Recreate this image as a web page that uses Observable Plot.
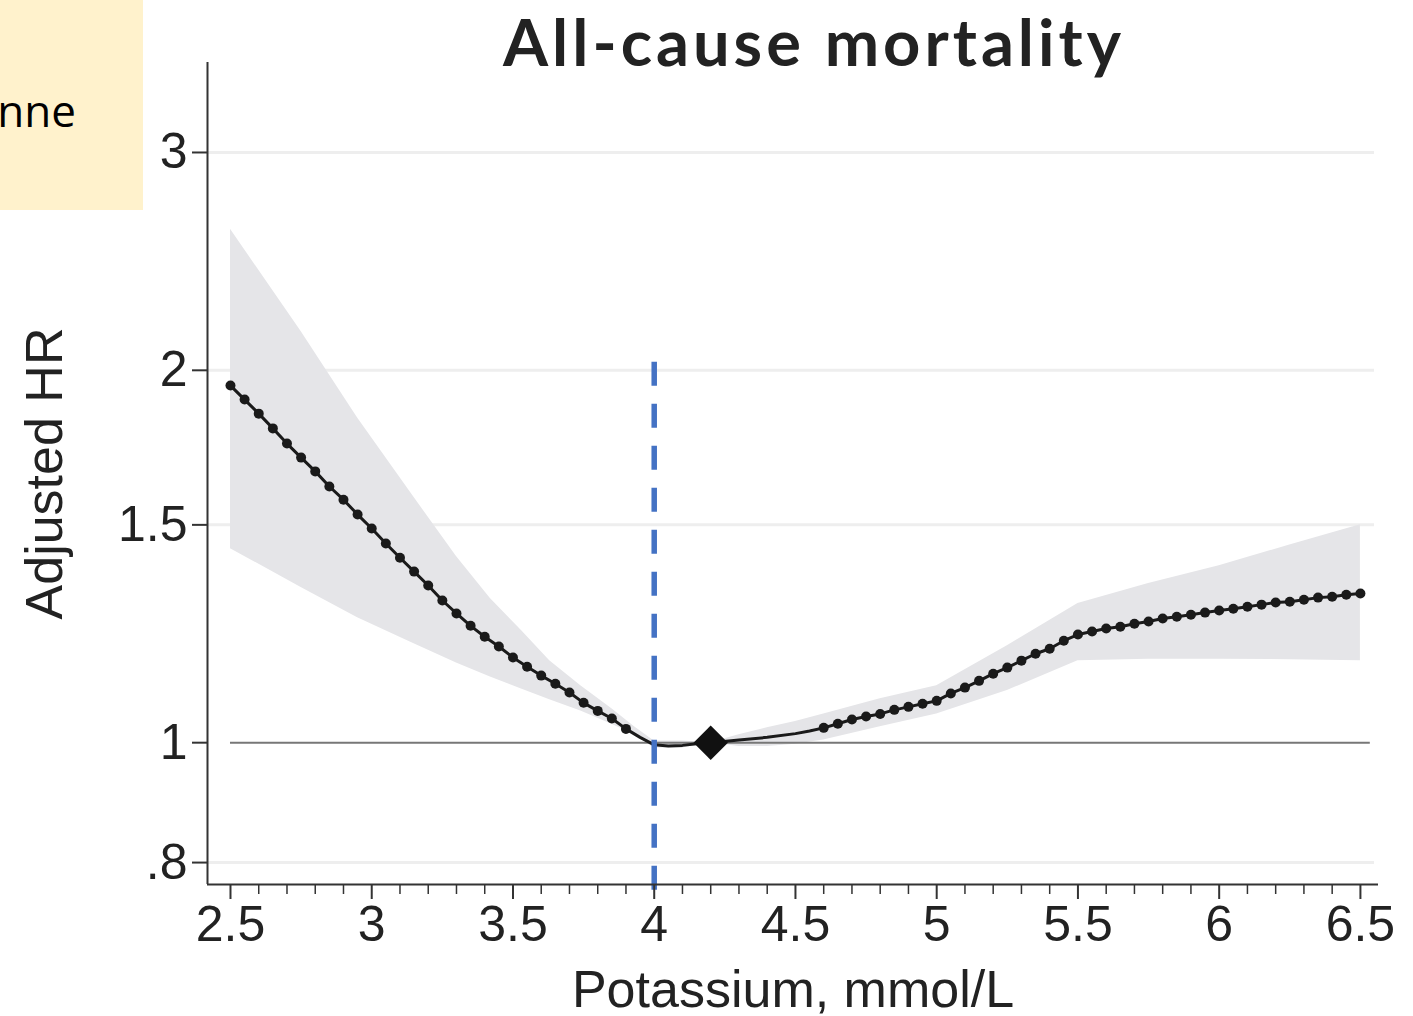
<!DOCTYPE html>
<html>
<head>
<meta charset="utf-8">
<script src="https://cdn.jsdelivr.net/npm/d3@7"></script>
<script src="https://cdn.jsdelivr.net/npm/@observablehq/plot@0.6"></script>
<style>
  html, body { margin: 0; padding: 0; background: #fff; }
  #wrap { position: relative; width: 1413px; height: 1016px; overflow: hidden; }
  #note { position: absolute; left: 0; top: 0; width: 143px; height: 210px; background: #FFF2CC; z-index: 2; }
  #note span { position: absolute; right: 67px; top: 80px; font-family: "Open Sans", sans-serif; font-size: 44px; color: #000; white-space: nowrap; }
  #chart { position: absolute; left: 0; top: 0; }
  .ttl text { letter-spacing: 4px; }
</style>
</head>
<body>
<div id="wrap">
  <div id="note"><span>nne</span></div>
  <div id="chart"></div>
</div>
<script>
// ---- data ----
const leftX  = [2.5,2.55,2.6,2.65,2.7,2.75,2.8,2.85,2.9,2.95,3.0,3.05,3.1,3.15,3.2,3.25,3.3,3.35,3.4,3.45,3.5,3.55,3.6,3.65,3.7,3.75,3.8,3.85,3.9];
const leftHR = [1.944,1.894,1.845,1.795,1.745,1.700,1.657,1.611,1.572,1.529,1.490,1.449,1.411,1.375,1.340,1.303,1.272,1.243,1.218,1.196,1.172,1.152,1.133,1.116,1.098,1.077,1.061,1.046,1.026];

const midX  = [3.95,4.0,4.05,4.1,4.15,4.2,4.3,4.4,4.5,4.55];
const midHR = [1.010,0.996,0.994,0.995,0.998,1.0,1.005,1.010,1.017,1.022];

const rightX  = [4.6,4.65,4.7,4.75,4.8,4.85,4.9,4.95,5.0,5.05,5.1,5.15,5.2,5.25,5.3,5.35,5.4,5.45,5.5,5.55,5.6,5.65,5.7,5.75,5.8,5.85,5.9,5.95,6.0,6.05,6.1,6.15,6.2,6.25,6.3,6.35,6.4,6.45,6.5];
const rightHR = [1.028,1.036,1.044,1.050,1.055,1.063,1.069,1.075,1.081,1.096,1.108,1.122,1.137,1.150,1.165,1.180,1.191,1.209,1.223,1.230,1.237,1.241,1.248,1.253,1.260,1.264,1.269,1.274,1.279,1.283,1.288,1.293,1.298,1.300,1.305,1.310,1.312,1.317,1.320];

const bandX  = [2.5,2.75,2.95,3.14,3.3,3.42,3.53,3.63,3.74,3.85,3.93,4.0,4.1,4.2,4.3,4.4,4.5,4.6,4.8,5.0,5.25,5.5,5.75,6.0,6.25,6.5];
const bandLo = [1.435,1.335,1.262,1.205,1.16,1.13,1.105,1.083,1.061,1.035,1.015,0.99,0.99,1.0,0.993,0.993,0.997,1.005,1.03,1.055,1.102,1.165,1.168,1.168,1.167,1.165];
const bandHi = [2.60,2.15,1.83,1.59,1.414,1.308,1.232,1.165,1.112,1.065,1.03,1.003,1.003,1.0,1.015,1.028,1.04,1.055,1.085,1.112,1.198,1.296,1.345,1.39,1.445,1.50];

const refX = 4.2, refHR = 1.0;        // reference point (diamond)
const cutX = 4.0;                      // dashed vertical line
const cutTop = 2.03;                   // top of dashed line (HR units)

const xTicks = [2.5,3,3.5,4,4.5,5,5.5,6,6.5];
const xTickLabels = ["2.5","3","3.5","4","4.5","5","5.5","6","6.5"];
const xMinor = [2.6,2.7,2.8,2.9,3.1,3.2,3.3,3.4,3.6,3.7,3.8,3.9,4.1,4.2,4.3,4.4,4.6,4.7,4.8,4.9,5.1,5.2,5.3,5.4,5.6,5.7,5.8,5.9,6.1,6.2,6.3,6.4];
const yTicks = [0.8,1,1.5,2,3];
const yTickLabels = [".8","1","1.5","2","3"];
const yGrid = [0.8,1.5,2,3];

const title = "All-cause mortality";
const xLabel = "Potassium, mmol/L";
const yLabel = "Adjusted HR";

// ---- build tables ----
const leftPts  = leftX.map((x,i) => ({x, y: leftHR[i]}));
const midPts   = midX.map((x,i) => ({x, y: midHR[i]}));
const rightPts = rightX.map((x,i) => ({x, y: rightHR[i]}));
const curve = [...leftPts, ...midPts, ...rightPts];
const band = bandX.map((x,i) => ({x, lo: bandLo[i], hi: bandHi[i]}));
const dots = [...leftPts, ...rightPts];

const W = 1413, H = 1016, mT = 62, mB = 132, mL = 207, mR = 35;
const frameW = W - mL - mR, frameH = H - mT - mB;
const xDom = [2.4186, 6.564], yDom = [0.768, 3.547];
const font = "'Liberation Sans', Arial, Helvetica, sans-serif";

const chart = Plot.plot({
  width: W, height: H,
  marginTop: mT, marginBottom: mB, marginLeft: mL, marginRight: mR,
  style: {fontFamily: font, background: "transparent", color: "#222", overflow: "visible"},
  x: {domain: xDom, axis: null},
  y: {type: "log", domain: yDom, axis: null},
  marks: [
    Plot.ruleY(yGrid, {x1: xDom[0], x2: 6.55, stroke: "#eeeeee", strokeWidth: 3}),
    Plot.areaY(band, {x: "x", y1: "lo", y2: "hi", fill: "#e5e5e8"}),
    Plot.ruleY([1], {x1: 2.5, x2: 6.535, stroke: "#777", strokeWidth: 2}),
    Plot.line(curve, {x: "x", y: "y", stroke: "#1a1a1a", strokeWidth: 3}),
    Plot.dot(dots, {x: "x", y: "y", r: 5, fill: "#1a1a1a", stroke: "none"}),
    Plot.ruleX([cutX], {y1: cutTop, y2: 0.755, stroke: "#4472C4", strokeWidth: 5.5, strokeDasharray: "24,18"}),
    Plot.dot([{x: refX, y: refHR}], {x: "x", y: "y", symbol: d3.symbolDiamond2, r: 15.5, fill: "#111", stroke: "none"}),
    // axis lines
    Plot.ruleY([yDom[0]], {stroke: "#333", strokeWidth: 2}),
    Plot.ruleX([xDom[0]], {stroke: "#333", strokeWidth: 2}),
    // x ticks
    Plot.ruleX(xTicks, {insetTop: frameH, insetBottom: -15, stroke: "#333", strokeWidth: 2}),
    Plot.ruleX(xMinor, {insetTop: frameH, insetBottom: -10, stroke: "#333", strokeWidth: 1.5}),
    Plot.text(xTicks, {x: d => d, frameAnchor: "bottom", dy: 56, text: (d,i) => xTickLabels[i], fontSize: 50, fill: "#222"}),
    // y ticks
    Plot.ruleY(yTicks, {insetRight: frameW, insetLeft: -15, stroke: "#333", strokeWidth: 2}),
    Plot.text(yTicks, {y: d => d, frameAnchor: "left", dx: -20, textAnchor: "end", text: (d,i) => yTickLabels[i], fontSize: 50, fill: "#222"}),
    // axis labels
    Plot.text([xLabel], {frameAnchor: "bottom", dy: 122, fontSize: 52, fill: "#222"}),
    Plot.text([yLabel], {frameAnchor: "left", dx: -162, rotate: -90, textAnchor: "middle", fontSize: 52, fill: "#222"}),
    // title
    Plot.text([title], {frameAnchor: "top", lineAnchor: "top", dx: 21, dy: -43, fontSize: 65, fontWeight: 700,
                        fontFamily: "Lato, 'Open Sans', sans-serif", fill: "#222", className: "ttl"})
  ]
});
document.getElementById("chart").appendChild(chart);
</script>
</body>
</html>
